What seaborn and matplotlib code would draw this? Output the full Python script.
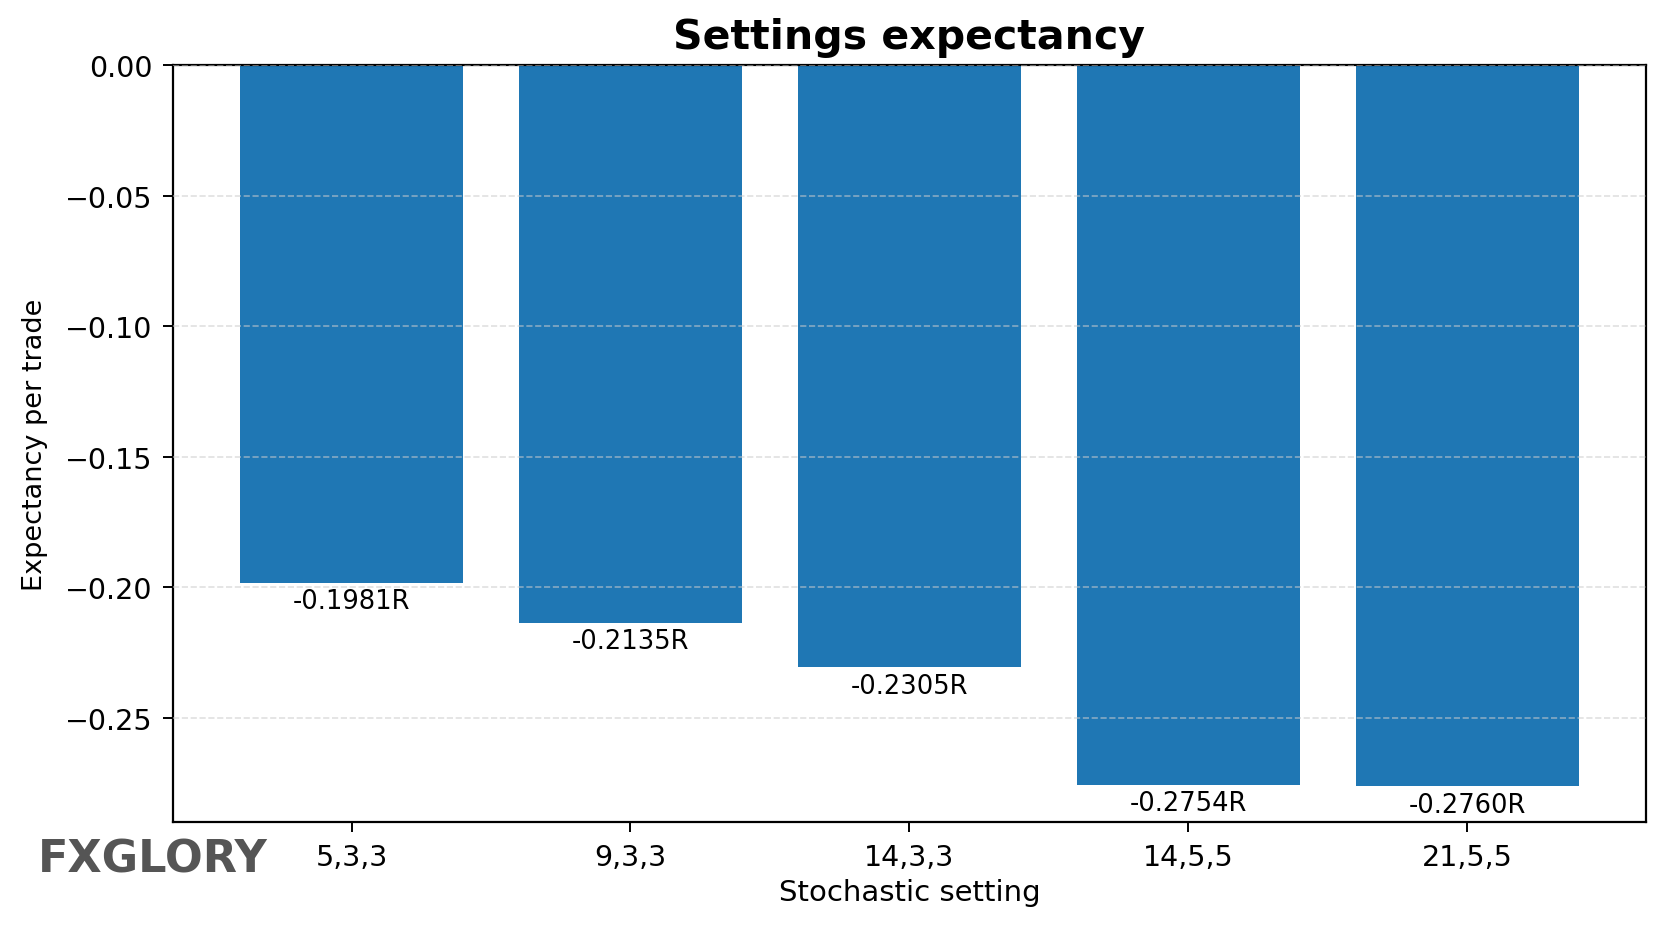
import matplotlib
matplotlib.use('Agg')
import matplotlib.pyplot as plt
import seaborn as sns
import pandas as pd

# 数据
settings = ['5,3,3', '9,3,3', '14,3,3', '14,5,5', '21,5,5']
expectancy = [-0.1981, -0.2135, -0.2305, -0.2754, -0.2760]

df = pd.DataFrame({'setting': settings, 'expectancy': expectancy})

plt.rcParams['font.family'] = ['DejaVu Sans']

fig, ax = plt.subplots(figsize=(16.64, 9.28), dpi=100)
sns.barplot(data=df, x='setting', y='expectancy', color='#1f77b4',
            saturation=1, width=0.8, ax=ax)

# 柱状图标签
for cont in ax.containers:
    ax.bar_label(cont, labels=[f'{v:.4f}R' for v in expectancy],
                 padding=4, fontsize=18.5)

ax.set_xlim(-0.64, 4.64)
ax.set_ylim(-0.2898, 0)
ax.set_yticks([0, -0.05, -0.10, -0.15, -0.20, -0.25])
ax.grid(axis='y', linestyle='--', color='#cccccc', alpha=0.6, linewidth=1.2)
ax.set_axisbelow(False)
for sp in ax.spines.values():
    sp.set_linewidth(1.6)
ax.tick_params(labelsize=20.5, width=1.4, length=7)
ax.tick_params(axis='x', pad=8)
ax.tick_params(axis='y', pad=8)

ax.set_title('Settings expectancy', fontsize=29.5, fontweight='bold', pad=12)
ax.set_xlabel('Stochastic setting', fontsize=21, labelpad=5)
ax.set_ylabel('Expectancy per trade', fontsize=19.5, labelpad=12)

fig.text(0.023, 0.073, 'FXGLORY', fontsize=32, fontweight='bold',
         color='#555555', va='center', ha='left')

plt.subplots_adjust(left=0.104, right=0.989, top=0.929, bottom=0.113)
plt.savefig('out.png', dpi=100)
plt.close()
